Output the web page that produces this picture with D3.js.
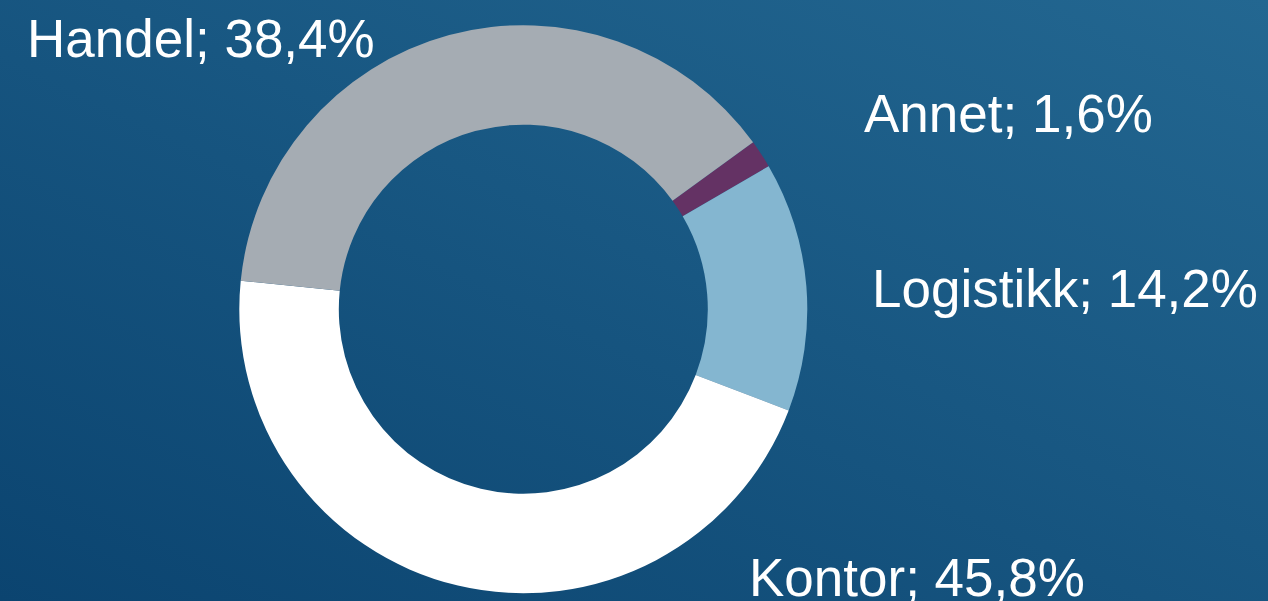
<!DOCTYPE html>
<html>
<head>
<meta charset="utf-8">
<script src="https://cdn.jsdelivr.net/npm/d3@7"></script>
<style>
  html, body { margin: 0; padding: 0; overflow: hidden; }
  svg { display: block; }
</style>
</head>
<body>
<svg id="chart" width="1268" height="601"></svg>
<script>
// Data
const categories = ["Annet", "Logistikk", "Kontor", "Handel"];
const values = [1.6, 14.2, 45.8, 38.4];
const labels = ["Annet; 1,6%", "Logistikk; 14,2%", "Kontor; 45,8%", "Handel; 38,4%"];
const colors = ["#643264", "#84b6d0", "#ffffff", "#a5acb3"];

const W = 1268, H = 601;
const svg = d3.select("#chart");

// Background gradient
const defs = svg.append("defs");
const grad = defs.append("linearGradient")
  .attr("id", "bg").attr("x1", "0").attr("y1", "1").attr("x2", "1").attr("y2", "0");
grad.append("stop").attr("offset", "0%").attr("stop-color", "#0b4470");
grad.append("stop").attr("offset", "100%").attr("stop-color", "#236791");
svg.append("rect").attr("width", W).attr("height", H).attr("fill", "url(#bg)");

const cx = 523.3, cy = 309.2, R = 284, r = 184.5;
const startDeg = 54;
const pie = d3.pie().sort(null).value(d => d)
  .startAngle(startDeg * Math.PI / 180)
  .endAngle((startDeg + 360) * Math.PI / 180);
const arc = d3.arc().innerRadius(r).outerRadius(R);

const g = svg.append("g").attr("transform", `translate(${cx},${cy})`);
g.selectAll("path").data(pie(values)).join("path")
  .attr("d", arc)
  .attr("fill", (d, i) => colors[i]);

// Labels
const labelPos = [[864, 131.5], [872, 306.5], [749, 596], [27, 57]];
svg.selectAll("text.lbl").data(labels).join("text")
  .attr("class", "lbl")
  .attr("x", (d, i) => labelPos[i][0])
  .attr("y", (d, i) => labelPos[i][1])
  .attr("fill", "#ffffff")
  .attr("font-family", "'Liberation Sans', Arial, sans-serif")
  .attr("font-size", 53)
  .text(d => d);
</script>
</body>
</html>
